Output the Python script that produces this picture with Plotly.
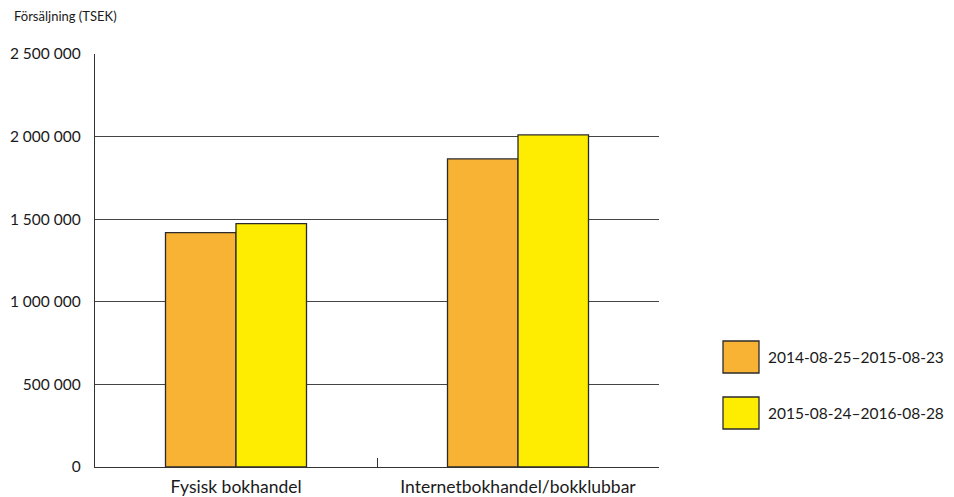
import plotly.graph_objects as go

categories = ["Fysisk bokhandel", "Internetbokhandel/bokklubbar"]
series_names = ["2014-08-25–2015-08-23", "2015-08-24–2016-08-28"]
values_2015 = [1419000, 1865000]
values_2016 = [1473000, 2010000]
colors = ["#F8B334", "#FFED00"]
y_tickvals = [0, 500000, 1000000, 1500000, 2000000, 2500000]
y_ticktext = ["0", "500 000", "1 000 000", "1 500 000", "2 000 000", "2 500 000"]
y_title = "Försäljning (TSEK)"

FONT = "Lato"

fig = go.Figure()
for name, vals, col in zip(series_names, [values_2015, values_2016], colors):
    fig.add_trace(go.Bar(x=categories, y=vals, name=name, marker=dict(color=col, line=dict(color="#2b2b2b", width=1.3)),
                         showlegend=False))

fig.update_layout(
    width=954, height=497, autosize=False,
    margin=dict(l=95, r=295, t=54, b=30, pad=0),
    paper_bgcolor="white", plot_bgcolor="white",
    barmode="group", bargap=0.5, bargroupgap=0,
    font=dict(family=FONT, size=16, color="#1a1a1a"),
    xaxis=dict(
        range=[-0.5, 1.5], tickson="boundaries", ticks="inside", ticklen=9, tickcolor="#333",
        showline=True, linecolor="#333", linewidth=1.3, showgrid=False, zeroline=False,
        tickfont=dict(family=FONT, size=17.5), automargin=False, ticklabelstandoff=4,
    ),
    yaxis=dict(
        range=[0, 2500000], tickvals=y_tickvals, ticktext=y_ticktext,
        showgrid=True, gridcolor="#444", gridwidth=1.2, showline=True, linecolor="#333", linewidth=1.3,
        zeroline=False, ticks="", ticklabelstandoff=10, automargin=False,
        tickfont=dict(family=FONT, size=15.5),
    ),
)

fig.add_annotation(text=y_title, xref="paper", yref="paper", x=(12 - 95) / 564, y=1.0, yshift=28,
                   xanchor="left", yanchor="bottom", showarrow=False,
                   font=dict(family=FONT, size=13, color="#1a1a1a"))

# manual legend
leg_y = [357, 413]
for name, col, yc in zip(series_names, colors, leg_y):
    y0 = (467 - (yc + 16)) / 413
    y1 = (467 - (yc - 16)) / 413
    x0 = (723 - 95) / 564
    x1 = (759 - 95) / 564
    fig.add_shape(type="rect", xref="paper", yref="paper", x0=x0, x1=x1, y0=y0, y1=y1,
                  fillcolor=col, line=dict(color="#2b2b2b", width=1.3))
    fig.add_annotation(text=name, xref="paper", yref="paper", x=(766 - 95) / 564, y=(467 - yc) / 413,
                       xanchor="left", yanchor="middle", showarrow=False,
                       font=dict(family=FONT, size=15.5, color="#1a1a1a"))

fig.write_html("out.html", config={"displayModeBar": False},
               post_script="document.body.style.margin='0';document.body.style.overflow='hidden';")
